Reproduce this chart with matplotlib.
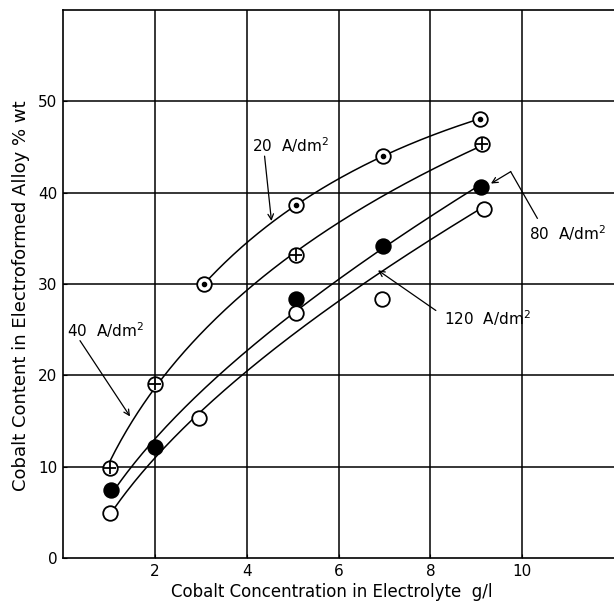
import numpy as np
import matplotlib
matplotlib.use("Agg")
import matplotlib.pyplot as plt

plt.rcParams['font.family'] = ['DejaVu Sans']

# measured points (cobalt g/l, cobalt % wt)
conc_20 = [3.07, 5.07, 6.96, 9.09]
co_20 = [30.0, 38.6, 44.0, 48.1]
conc_40 = [1.02, 2.01, 5.07, 9.12]
co_40 = [9.8, 19.0, 33.2, 45.3]
conc_80 = [1.04, 2.0, 5.08, 6.97, 9.1]
co_80 = [7.4, 12.1, 28.4, 34.2, 40.6]
conc_120 = [1.02, 2.96, 5.07, 6.94, 9.17]
co_120 = [4.9, 15.3, 26.8, 28.4, 38.2]

# points
curve_x_20 = [3.07, 5.07, 6.96, 9.09]
curve_y_20 = [30.0, 38.6, 44.0, 48.1]
curve_x_40 = [1.02, 1.46, 2.01, 4.21, 5.07, 9.12]
curve_y_40 = [9.8, 15.4, 19.0, 30.0, 33.2, 45.3]
curve_x_80 = [1.04, 2.0, 4.93, 6.97, 9.1]
curve_y_80 = [7.4, 12.1, 26.9, 34.2, 40.6]
curve_x_120 = [1.02, 2.96, 4.93, 6.86, 9.17]
curve_y_120 = [4.9, 15.3, 24.4, 31.5, 38.2]

x_ticks = [2, 4, 6, 8, 10]
y_ticks = [0, 10, 20, 30, 40, 50]

fig = plt.figure(figsize=(6.14, 6.05), dpi=100)
ax = fig.add_axes([63/614, 1-558/605, 551/614, 548/605])
ax.set_xlim(0, 12)
ax.set_ylim(0, 60)

for v in x_ticks:
    ax.axvline(v, color='black', lw=1.1, zorder=1)
for v in y_ticks[1:]:
    ax.axhline(v, color='black', lw=1.1, zorder=1)


def curve(cx, cy):
    # smooth fit in sqrt(x), these curves bend hardest at low concentration
    u = np.sqrt(cx)
    p = np.polyfit(u, cy, 2)
    xs = np.linspace(cx[0], cx[-1], 200)
    ax.plot(xs, np.polyval(p, np.sqrt(xs)), color='black', lw=1.1, zorder=2)


curve(curve_x_20, curve_y_20)
curve(curve_x_40, curve_y_40)
curve(curve_x_80, curve_y_80)
curve(curve_x_120, curve_y_120)

ms = 10.5
# 20 A/dm2 : circle with dot
ax.plot(conc_20, co_20, 'o', ms=ms, mfc='white', mec='black', mew=1.3, zorder=3)
ax.plot(conc_20, co_20, 'o', ms=3, mfc='black', mec='black', zorder=4)
# 40 A/dm2 : circle with cross
ax.plot(conc_40, co_40, 'o', ms=ms, mfc='white', mec='black', mew=1.3, zorder=3)
ax.plot(conc_40, co_40, '+', ms=ms - 1.5, mec='black', mew=1.3, zorder=4)
# 80 A/dm2 : filled
ax.plot(conc_80, co_80, 'o', ms=ms, mfc='black', mec='black', mew=1.3, zorder=3)
# 120 A/dm2 : open
ax.plot(conc_120, co_120, 'o', ms=ms, mfc='white', mec='black', mew=1.3, zorder=3)

arrow = dict(arrowstyle='->', color='black', lw=0.9, shrinkA=0, shrinkB=0)
fs = 11
ax.text(4.12, 45.2, r'20  A/dm$^{2}$', fontsize=fs, va='center', ha='left')
ax.annotate('', xy=(4.54, 36.9), xytext=(4.39, 44.0), arrowprops=arrow)

ax.text(0.09, 24.9, r'40  A/dm$^{2}$', fontsize=fs, va='center', ha='left')
ax.annotate('', xy=(1.46, 15.5), xytext=(0.37, 23.8), arrowprops=arrow)

ax.text(10.15, 35.6, r'80  A/dm$^{2}$', fontsize=fs, va='center', ha='left',
        clip_on=False)
ax.plot([10.33, 9.75], [37.2, 42.3], color='black', lw=0.9, clip_on=False)
ax.annotate('', xy=(9.32, 41.0), xytext=(9.75, 42.3), arrowprops=arrow)

ax.text(8.3, 26.3, r'120  A/dm$^{2}$', fontsize=fs, va='center', ha='left')
ax.annotate('', xy=(6.86, 31.5), xytext=(8.12, 27.1), arrowprops=arrow)

ax.set_xticks(x_ticks)
ax.set_yticks(y_ticks)
ax.tick_params(direction='in', length=3, labelsize=11, pad=4)
ax.spines['right'].set_visible(False)
for s in ['left', 'bottom', 'top']:
    ax.spines[s].set_linewidth(1.2)

fig.text(332/614, 1-592/605, 'Cobalt Concentration in Electrolyte  g/l',
         fontsize=12, ha='center', va='center')
fig.text(21/614, 1-296/605, 'Cobalt Content in Electroformed Alloy % wt',
         fontsize=13, ha='center', va='center', rotation=90)

fig.savefig('out.png', dpi=100)
